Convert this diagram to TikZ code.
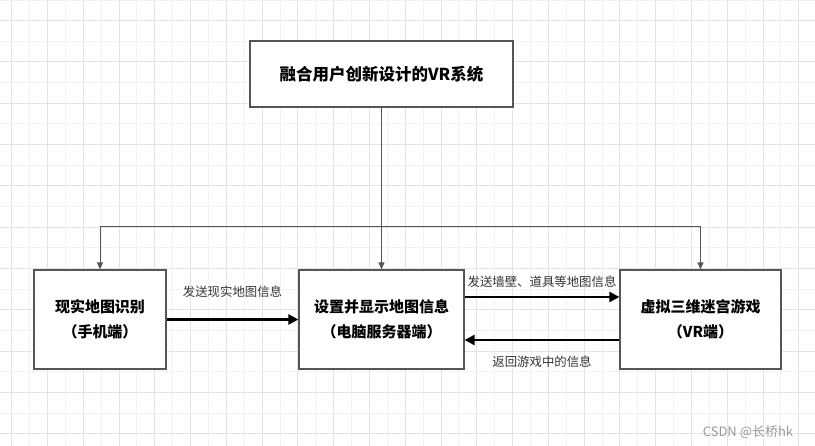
\documentclass[tikz,border=0pt]{standalone}
\usepackage{fontspec}
\setmainfont{Noto Sans CJK SC}
\usetikzlibrary{arrows.meta}
\definecolor{linegray}{HTML}{555555}
\definecolor{textgray}{HTML}{333333}
\definecolor{minorgrid}{HTML}{F2F2F2}
\definecolor{majorgrid}{HTML}{E3E3E3}
\tikzset{
  block/.style={draw=linegray,line width=1.2pt,fill=white,inner sep=0pt,
    minimum height=99pt,align=center,font=\fontsize{15}{25}\selectfont\bfseries},
  link/.style={draw=linegray,line width=1pt,-{Triangle[width=6pt,length=7pt]}},
  flow/.style={draw=black,line width=2.8pt,-{Triangle[width=10pt,length=10pt]}},
  msg/.style={text=textgray,font=\fontsize{12.4}{14}\selectfont,inner sep=0pt}
}
\begin{document}
\begin{tikzpicture}[x=1pt,y=-1pt]
  \useasboundingbox (0,0) rectangle (815,446);
  % grid
  \foreach \i in {0,...,46}
    \draw[minorgrid,line width=1pt] ({-6.2+17.89*\i},0) -- ++(0,446);
  \foreach \j in {0,...,21}
    \draw[minorgrid,line width=1pt] (0,{0.05+20.65*\j}) -- ++(815,0);
  \foreach \i in {0,...,22}
    \draw[majorgrid,line width=1pt] ({11.7+35.78*\i},0) -- ++(0,446);
  \foreach \j in {0,...,10}
    \draw[majorgrid,line width=1pt] (0,{20.7+41.3*\j}) -- ++(815,0);

  \node[block,minimum width=263pt,minimum height=66pt,font=\fontsize{16.5}{20}\selectfont\bfseries] (system) at (381.5,74) {融合用户创新设计的VR系统};
  \node[block,minimum width=132pt] (phone) at (100,319.5) {现实地图识别\\（手机端）};
  \node[block,minimum width=165pt] (server) at (381.5,319.5) {设置并显示地图信息\\（电脑服务器端）};
  \node[block,minimum width=161pt] (game) at (700.5,319.5) {虚拟三维迷宫游戏\\（VR端）};
  \coordinate (split) at (381.5,227);

  \draw[draw=linegray,line width=1pt] (system) -- (split);
  \draw[link] (split) -| (phone);
  \draw[link] (split) -- (server);
  \draw[link] (split) -| (game);

  \draw[flow] (phone) -- (server)
    node[msg,midway,yshift=28pt] (sendmap) {发送现实地图信息};
  \draw[flow] ([yshift=22.5pt]server.east) -- ([yshift=22.5pt]game.west)
    node[msg,midway,yshift=15pt] (sendwall) {发送墙壁、道具等地图信息};
  \draw[flow] ([yshift=-20.5pt]game.west) -- ([yshift=-20.5pt]server.east)
    node[msg,midway,yshift=-22pt] (back) {返回游戏中的信息};

  \node[text=gray!80,font=\fontsize{13}{15}\selectfont,inner sep=0pt] (mark) at (748,432) {CSDN @长桥hk};
\end{tikzpicture}
\end{document}
